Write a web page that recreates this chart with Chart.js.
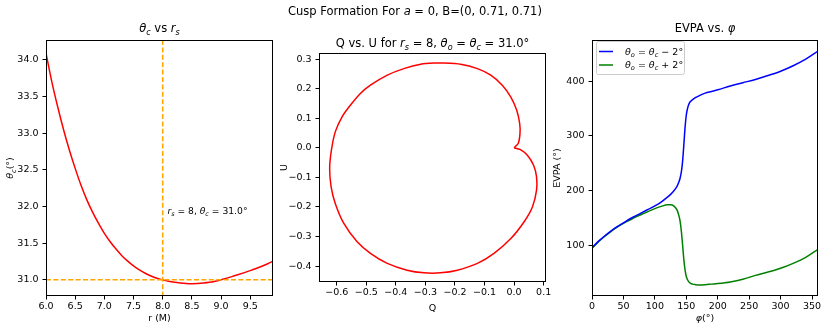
<!DOCTYPE html>
<html>
<head>
<meta charset="utf-8">
<script src="https://cdn.jsdelivr.net/npm/chart.js@4"></script>
<style>
  body { margin:0; background:#fff; width:830px; height:332px; overflow:hidden; position:relative; font-family:"DejaVu Sans", sans-serif; }
  .panel { position:absolute; top:0; height:332px; }
  #suptitle { position:absolute; top:4px; left:0; width:830px; text-align:center; font-size:11.5px; line-height:14px; color:#000; z-index:2; }
</style>
</head>
<body>
<div id="suptitle">Cusp Formation For <i>a</i> = 0, B=(0, 0.71, 0.71)</div>
<div class="panel" style="left:0;width:280px"><canvas id="c1" width="280" height="332"></canvas></div>
<div class="panel" style="left:280px;width:280px"><canvas id="c2" width="280" height="332"></canvas></div>
<div class="panel" style="left:550px;width:280px"><canvas id="c3" width="280" height="332"></canvas></div>
<script>
// panel 1: theta_c against r_s
const rS = [6.0, 6.1, 6.2, 6.3, 6.4, 6.5, 6.6, 6.7, 6.8, 6.9,
            7.0, 7.1, 7.2, 7.3, 7.4, 7.5, 7.6, 7.7, 7.8, 7.9,
            8.0, 8.1, 8.2, 8.3, 8.4, 8.5, 8.6, 8.7, 8.8, 8.9,
            9.0, 9.1, 9.2, 9.3, 9.4, 9.5, 9.6, 9.7, 9.8, 9.9];
const thetaC = [34.09, 33.70, 33.36, 33.05, 32.77, 32.52, 32.29, 32.09, 31.92, 31.77,
                31.635, 31.52, 31.42, 31.33, 31.255, 31.19, 31.136, 31.09, 31.052, 31.022,
                31.00, 30.982, 30.968, 30.958, 30.951, 30.948, 30.95, 30.956, 30.966, 30.982,
                31.002, 31.024, 31.048, 31.073, 31.099, 31.126, 31.155, 31.186, 31.22, 31.257];
const rsMark = 8;
const thetaMark = 31.0;

// panel 2: Q / U loop
const qVals = [0.000, 0.014, 0.020, 0.019, 0.009, -0.011, -0.040, -0.079, -0.124, -0.181,
               -0.237, -0.271, -0.316, -0.373, -0.429, -0.486, -0.520, -0.554, -0.582, -0.605,
               -0.618, -0.624, -0.619, -0.605, -0.576, -0.531, -0.486, -0.429, -0.362, -0.305,
               -0.249, -0.192, -0.124, -0.068, -0.011, 0.034, 0.062, 0.076, 0.076, 0.066,
               0.045, 0.020, 0.000];
const uVals = [0.000, 0.015, 0.048, 0.082, 0.127, 0.172, 0.212, 0.246, 0.268, 0.283,
               0.287, 0.287, 0.283, 0.268, 0.246, 0.212, 0.184, 0.144, 0.105, 0.054,
               -0.008, -0.070, -0.132, -0.188, -0.256, -0.318, -0.357, -0.391, -0.414, -0.423,
               -0.423, -0.414, -0.391, -0.357, -0.307, -0.250, -0.200, -0.143, -0.098, -0.059,
               -0.025, -0.005, 0.000];

// panel 3: EVPA against phi
const phiDeg = [0, 10, 20, 30, 40, 50, 60, 70, 80, 90, 100, 110, 120, 125, 130, 135, 138, 140,
                142, 144, 146, 148, 150, 152, 155, 160, 165, 170, 180, 190, 200, 220, 240,
                260, 280, 300, 320, 340, 360];
const evpaMinus = [96, 107, 117, 126, 134, 141, 148, 154, 160, 166, 172, 179, 188, 193, 199, 207, 215, 222,
                   233, 252, 282, 315, 338, 350, 360, 366, 370, 373, 378, 381, 384, 391, 397,
                   403, 410, 418, 428, 440, 455];
const evpaPlus = [94, 106, 116, 125, 133, 140, 146, 152, 157, 162, 167, 171, 174, 174, 172, 165, 155, 145,
                  127, 102, 75, 55, 43, 37, 32, 29, 28, 27.5, 28, 29, 30, 33, 38,
                  45, 51, 58, 67, 78, 93];

const xTicks1 = [6.0, 6.5, 7.0, 7.5, 8.0, 8.5, 9.0, 9.5];
const yTicks1 = [31.0, 31.5, 32.0, 32.5, 33.0, 33.5, 34.0];
const xTicks2 = [-0.6, -0.5, -0.4, -0.3, -0.2, -0.1, 0.0, 0.1];
const yTicks2 = [-0.4, -0.3, -0.2, -0.1, 0.0, 0.1, 0.2, 0.3];
const xTicks3 = [0, 50, 100, 150, 200, 250, 300, 350];
const yTicks3 = [100, 200, 300, 400];

const FAM = "'DejaVu Sans', sans-serif";

function fontFor(st, size) {
  if (st === 'i') return 'italic ' + size + 'px ' + FAM;
  if (st === 's') return 'italic ' + (size * 0.7) + 'px ' + FAM;
  return size + 'px ' + FAM;
}

// parts: [text, style]  '' upright, 'i' italic, 's' italic subscript
function drawRich(ctx, parts, x, y, size, align) {
  let w = 0;
  parts.forEach(p => { ctx.font = fontFor(p[1], size); w += ctx.measureText(p[0]).width; });
  let cx = align === 'center' ? x - w / 2 : (align === 'right' ? x - w : x);
  ctx.textAlign = 'left';
  ctx.textBaseline = 'alphabetic';
  ctx.fillStyle = '#000';
  parts.forEach(p => {
    ctx.font = fontFor(p[1], size);
    ctx.fillText(p[0], cx, y + (p[1] === 's' ? size * 0.22 : 0));
    cx += ctx.measureText(p[0]).width;
  });
}

function drawRotated(ctx, parts, xc, yc, size) {
  ctx.save();
  ctx.translate(xc, yc);
  ctx.rotate(-Math.PI / 2);
  drawRich(ctx, parts, 0, size * 0.36, size, 'center');
  ctx.restore();
}

const oneDec = v => v.toFixed(1).replace('-', '\u2212');

function axis(min, max, ticks, fmt, size, horizontal) {
  return {
    type: 'linear', min: min, max: max,
    afterBuildTicks: s => { s.ticks = ticks.map(v => ({ value: v })); },
    afterFit: s => { if (horizontal) s.height = size; else s.width = size; },
    grid: { drawOnChartArea: false, drawTicks: true, tickLength: 3.5, tickColor: '#000', tickWidth: 1 },
    border: { display: false },
    ticks: { color: '#000', font: { family: FAM, size: 9.5 }, padding: horizontal ? 1.5 : 4,
             maxRotation: 0, autoSkip: false, callback: v => fmt(v) }
  };
}

function frame(chart) {
  const a = chart.chartArea, ctx = chart.ctx;
  ctx.save();
  ctx.strokeStyle = '#000';
  ctx.lineWidth = 1;
  ctx.strokeRect(Math.round(a.left) + 0.5, Math.round(a.top) + 0.5,
                 Math.round(a.right - a.left) - 1, Math.round(a.bottom - a.top) - 1);
  ctx.restore();
}

function baseOpts(pad, scales) {
  return {
    responsive: false, animation: false, devicePixelRatio: 1,
    layout: { padding: pad },
    plugins: { legend: { display: false }, tooltip: { enabled: false } },
    scales: scales
  };
}

// ---- panel 1 ----
new Chart(document.getElementById('c1'), {
  type: 'scatter',
  data: { datasets: [{
    data: rS.map((r, i) => ({ x: r, y: thetaC[i] })),
    showLine: true, pointRadius: 0, borderColor: '#ff0000', borderWidth: 1.5,
    cubicInterpolationMode: 'monotone'
  }]},
  options: baseOpts({ top: 40, right: 7, left: 0, bottom: 0 }, {
    x: axis(6.0, 9.89, xTicks1, oneDec, 36, true),
    y: axis(30.78, 34.27, yTicks1, oneDec, 46, false)
  }),
  plugins: [{
    id: 'deco1',
    afterDatasetsDraw(chart) {
      const { ctx, chartArea: a, scales: { x, y } } = chart;
      ctx.save();
      ctx.strokeStyle = '#ffa500';
      ctx.lineWidth = 1.5;
      ctx.setLineDash([5, 2.4]);
      const px = x.getPixelForValue(rsMark), py = y.getPixelForValue(thetaMark);
      ctx.beginPath(); ctx.moveTo(px, a.top); ctx.lineTo(px, a.bottom); ctx.stroke();
      ctx.beginPath(); ctx.moveTo(a.left, py); ctx.lineTo(a.right, py); ctx.stroke();
      ctx.restore();
      drawRich(ctx, [['r', 'i'], ['s', 's'], [' = ' + rsMark + ', ', ''], ['\u03b8', 'i'], ['c', 's'], [' = ' + thetaMark.toFixed(1) + '\u00b0', '']],
               x.getPixelForValue(8.08), y.getPixelForValue(31.9), 9.2, 'left');
    },
    afterDraw(chart) {
      const { ctx, chartArea: a } = chart;
      frame(chart);
      drawRich(ctx, [['\u03b8', 'i'], ['c', 's'], [' vs ', ''], ['r', 'i'], ['s', 's']], (a.left + a.right) / 2, 32, 11.5, 'center');
      drawRich(ctx, [['r (M)', '']], (a.left + a.right) / 2, 320.5, 9.5, 'center');
      drawRotated(ctx, [['\u03b8', 'i'], ['c', 's'], ['(\u00b0)', '']], 10, (a.top + a.bottom) / 2, 9.5);
    }
  }]
});

// ---- panel 2 ----
new Chart(document.getElementById('c2'), {
  type: 'scatter',
  data: { datasets: [{
    data: qVals.map((q, i) => ({ x: q, y: uVals[i] })),
    showLine: true, pointRadius: 0, borderColor: '#ff0000', borderWidth: 1.5, tension: 0.2
  }]},
  options: baseOpts({ top: 53, right: 14, left: 0, bottom: 0 }, {
    x: axis(-0.66, 0.108, xTicks2, oneDec, 50, true),
    y: axis(-0.454, 0.321, yTicks2, oneDec, 39, false)
  }),
  plugins: [{
    id: 'deco2',
    afterDraw(chart) {
      const { ctx, chartArea: a } = chart;
      frame(chart);
      drawRich(ctx, [['Q vs. U for ', ''], ['r', 'i'], ['s', 's'], [' = 8, ', ''], ['\u03b8', 'i'], ['o', 's'],
                     [' = ', ''], ['\u03b8', 'i'], ['c', 's'], [' = 31.0\u00b0', '']],
               (a.left + a.right) / 2, 47, 11.5, 'center');
      drawRich(ctx, [['Q', '']], (a.left + a.right) / 2, 310.5, 9.5, 'center');
      drawRotated(ctx, [['U', '']], 4, (a.top + a.bottom) / 2, 9.5);
    }
  }]
});

// ---- panel 3 ----
const legendItems = [
  { color: '#0000ff', parts: [['\u03b8', 'i'], ['o', 's'], [' = ', ''], ['\u03b8', 'i'], ['c', 's'], [' \u2212 2\u00b0', '']] },
  { color: '#008000', parts: [['\u03b8', 'i'], ['o', 's'], [' = ', ''], ['\u03b8', 'i'], ['c', 's'], [' + 2\u00b0', '']] }
];

new Chart(document.getElementById('c3'), {
  type: 'scatter',
  data: { datasets: [{
    data: phiDeg.map((p, i) => ({ x: p, y: evpaMinus[i] })),
    showLine: true, pointRadius: 0, borderColor: '#0000ff', borderWidth: 1.5,
    cubicInterpolationMode: 'monotone'
  }, {
    data: phiDeg.map((p, i) => ({ x: p, y: evpaPlus[i] })),
    showLine: true, pointRadius: 0, borderColor: '#008000', borderWidth: 1.5,
    cubicInterpolationMode: 'monotone'
  }]},
  options: baseOpts({ top: 40, right: 12, left: 0, bottom: 0 }, {
    x: axis(0, 359.5, xTicks3, v => String(v), 36, true),
    y: axis(7.3, 475, yTicks3, v => String(v), 42, false)
  }),
  plugins: [{
    id: 'deco3',
    afterDraw(chart) {
      const { ctx, chartArea: a } = chart;
      frame(chart);
      // legend box in the upper left corner of the plot
      const bx = a.left + 4.5, by = a.top + 1.5, bw = 88, bh = 33;
      ctx.save();
      ctx.fillStyle = 'rgba(255,255,255,0.8)';
      ctx.strokeStyle = '#cccccc';
      ctx.lineWidth = 1;
      ctx.beginPath();
      ctx.roundRect(bx, by, bw, bh, 2);
      ctx.fill();
      ctx.stroke();
      legendItems.forEach((it, k) => {
        const cy = a.top + 11.5 + k * 13.5;
        ctx.strokeStyle = it.color;
        ctx.lineWidth = 1.5;
        ctx.beginPath(); ctx.moveTo(a.left + 7, cy); ctx.lineTo(a.left + 21, cy); ctx.stroke();
        drawRich(ctx, it.parts, a.left + 33, cy + 3.4, 9.5, 'left');
      });
      ctx.restore();
      drawRich(ctx, [['EVPA vs. ', ''], ['\u03c6', 'i']], (a.left + a.right) / 2, 32, 11.5, 'center');
      drawRich(ctx, [['\u03c6', 'i'], ['(\u00b0)', '']], (a.left + a.right) / 2, 320.5, 9.5, 'center');
      drawRotated(ctx, [['EVPA (\u00b0)', '']], 7, (a.top + a.bottom) / 2, 9.5);
    }
  }]
});
</script>
</body>
</html>
